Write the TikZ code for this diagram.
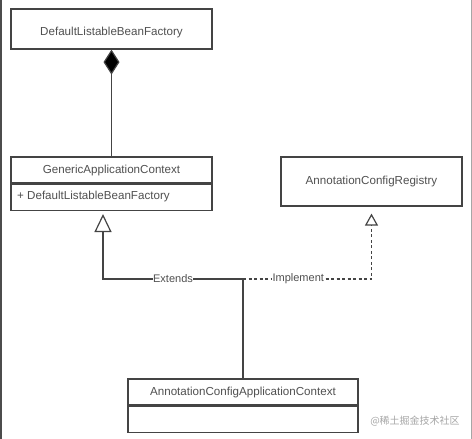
\documentclass[tikz,border=0pt]{standalone}
\usepackage{fontspec}
\setmainfont{Liberation Sans}
\newfontfamily\cjk{Noto Sans CJK SC}
\usetikzlibrary{arrows.meta}
\definecolor{linec}{HTML}{444444}
\definecolor{textc}{HTML}{505050}
\begin{document}
\begin{tikzpicture}[x=1pt,y=-1pt,
  box/.style={draw=linec, line width=1.2pt, rectangle, inner sep=0pt, font=\fontsize{11.6}{13}\selectfont, text=textc, fill=white},
  conn/.style={draw=linec, line width=1.2pt},
  lbl/.style={fill=white, inner sep=0.5pt, font=\fontsize{11}{12}\selectfont, text=textc}]
\useasboundingbox (0,0) rectangle (472,439);
\fill[white] (0,0) rectangle (472,439);
\draw[draw=black!70, line width=1.5pt] (1,0) -- (1,439);
\draw[draw=black!35, line width=0.8pt] (471,0) -- (471,439);

\node[box, minimum width=201pt, minimum height=40pt,
  label={[yshift=-4pt, font=\fontsize{11.6}{13}\selectfont, text=textc]center:DefaultListableBeanFactory}] (dlbf) at (111.5,29) {};

\node[box, minimum width=201pt, minimum height=26pt] (gach) at (111.5,170) {GenericApplicationContext};
\node[box, minimum width=201pt, minimum height=26pt, anchor=north] (gacb) at (gach.south) {};
\node[anchor=west, inner sep=0pt, font=\fontsize{11.6}{13}\selectfont, text=textc] (gacf) at (17,196) {+ DefaultListableBeanFactory};

\node[box, minimum width=181pt, minimum height=49pt] (acr) at (371.5,181.5) {AnnotationConfigRegistry};

\node[box, minimum width=230pt, minimum height=26pt] (acach) at (243,392) {AnnotationConfigApplicationContext};
\node[box, minimum width=230pt, minimum height=26pt, anchor=north] (acacb) at (acach.south) {};

\node[font=\cjk\fontsize{10}{12}\selectfont, text=black!35, inner sep=0pt] (wm) at (415,421) {@稀土掘金技术社区};

\draw[conn, {Diamond[length=25pt,width=16pt,fill=black]}-] (dlbf.south) -- (gach.north);

\coordinate (ej) at (243,279);
\coordinate (gtip) at (103,209);
\draw[conn, -{Triangle[open,length=18pt,width=17pt,line width=1.2pt]}, shorten >=5pt]
  (acach.north) -- (ej) -- node[lbl, pos=0.5]{Extends} (ej -| gtip) -- (gtip);
\draw[conn, dash pattern=on 3pt off 2.5pt, -{Triangle[open,length=12pt,width=13pt,line width=1.2pt]}, shorten >=7pt]
  (ej) -- node[lbl, pos=0.43]{Implement} (ej -| acr.south) -- (acr.south);
\end{tikzpicture}
\end{document}
